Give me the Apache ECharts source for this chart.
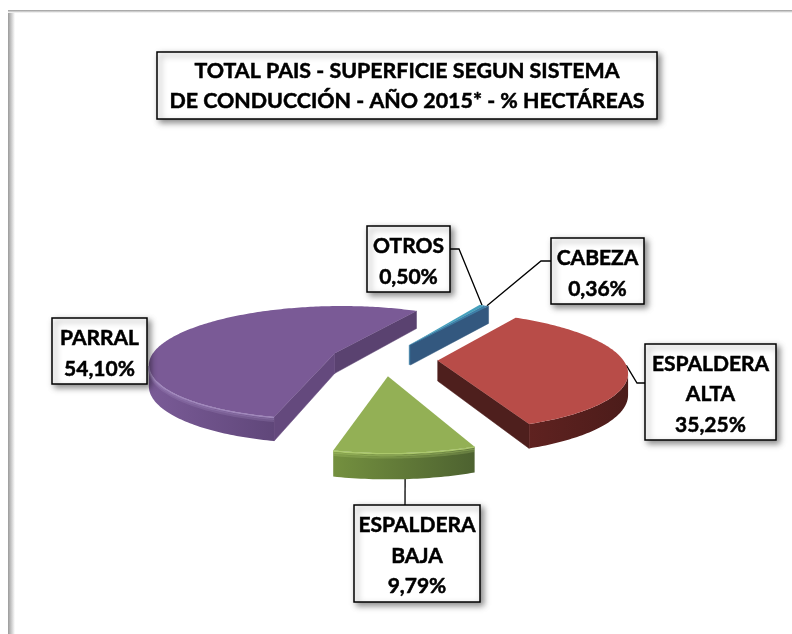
<!DOCTYPE html>
<html><head><meta charset="utf-8">
<style>html,body{margin:0;padding:0;background:#fff}#c{width:792px;height:634px}</style>
<script src="https://cdn.jsdelivr.net/npm/echarts@6/dist/echarts.min.js"></script>
</head><body><div id="c"></div>
<script>
const categories = ['CABEZA', 'ESPALDERA\nALTA', 'ESPALDERA\nBAJA', 'PARRAL', 'OTROS'];
const values = [0.36, 35.25, 9.79, 54.10, 0.50];
const titleText = 'TOTAL PAIS - SUPERFICIE SEGUN SISTEMA\nDE CONDUCCIÓN - AÑO 2015* - % HECTÁREAS';
const faceColors = ['#3f7fa8', '#b84c48', '#93b055', '#7a5a96', '#45a0bd'];
const rimColors = [['#33587f', '#33587f'], ['#5f2220', '#4c1c1a'], ['#74903f', '#4d6230'], ['#7a5b97', '#60477a'], ['#33587f', '#33587f']];
const startWallColors = ['#33587f', '#4e1f1d', '#6a8540', '#5a4270', '#3a7ba3'];
const endWallColors = ['#33587f', '#4e1f1d', '#6a8540', '#64497d', '#3a7ba3'];
const bevelColors = ['', '', '#b4d072', '#a48cc0', ''];
const labelBoxes = [[551, 238, 93, 66], [645, 344, 131, 96], [354, 505, 126, 97], [52, 318, 95, 66], [367, 226, 83, 66]];
const leaderPaths = [[[551, 261], [541, 261]], [[645, 383], [637, 383]], [[405, 505]], [], [[450, 249], [459, 249]]];

const PIE = { cx: 384, cy: 359, a: 185, b: 57, persp: 0.17, explode: 0.29, depth: 20.5, firstAngle: 59.8 };
const RAD = Math.PI / 180;
const total = values.reduce((s, v) => s + v, 0);
function project(X, Y) {
  const w = 1 + PIE.persp * Y;
  return [PIE.cx + PIE.a * X / w, PIE.cy - PIE.b * Y / w, w];
}
function geometry(i, val) {
  let before = 0;
  for (let k = 0; k < i; k++) before += values[k];
  const hi = PIE.firstAngle - before / total * 360;
  const lo = hi - val / total * 360;
  const mid = (hi + lo) / 2 * RAD;
  const ex = PIE.explode * Math.cos(mid), ey = PIE.explode * Math.sin(mid);
  const n = Math.max(2, Math.ceil(hi - lo));
  const rim = [];
  for (let k = 0; k <= n; k++) {
    const t = (lo + (hi - lo) * k / n) * RAD;
    rim.push(project(ex + Math.cos(t), ey + Math.sin(t)));
  }
  const m = project(ex + Math.cos(mid), ey + Math.sin(mid));
  return { apex: project(ex, ey), rim, midPoint: m };
}
const low = (p, f) => [p[0], p[1] + (f === undefined ? PIE.depth : f) / p[2]];
const xy = p => [p[0], p[1]];
function wall(p, q, fill) {
  return { type: 'polygon', shape: { points: [xy(p), xy(q), low(q), low(p)] },
           style: { fill: fill, stroke: fill, lineWidth: 0.5 } };
}
function renderSlice(params, api) {
  const i = params.dataIndex;
  const g = geometry(i, api.value(0));
  const children = [];
  if (g.rim[0][0] > g.apex[0]) children.push(wall(g.apex, g.rim[0], startWallColors[i]));
  const last = g.rim[g.rim.length - 1];
  if (g.apex[0] > last[0]) children.push(wall(last, g.apex, endWallColors[i]));
  const vis = g.rim.filter((p, k) =>
    (k < g.rim.length - 1 && g.rim[k + 1][0] > p[0]) || (k > 0 && p[0] > g.rim[k - 1][0]));
  if (vis.length > 1) {
    const pts = vis.map(xy).concat(vis.slice().reverse().map(p => low(p)));
    children.push({ type: 'polygon', shape: { points: pts }, style: {
      fill: new echarts.graphic.LinearGradient(0, 0, 1, 0, [
        { offset: 0, color: rimColors[i][0] }, { offset: 1, color: rimColors[i][1] }]) } });
  }
  children.push({ type: 'polygon', shape: { points: [xy(g.apex)].concat(g.rim.map(xy)) },
    style: { fill: faceColors[i] } });
  if (bevelColors[i] && vis.length > 1) {
    [[3.5, 0.25, 2], [2, 0.45, 1.5], [0.5, 0.9, 1.5]].forEach(o => {
      children.push({ type: 'polyline', shape: { points: vis.map(p => low(p, o[0])) },
        style: { fill: null, stroke: bevelColors[i], opacity: o[1], lineWidth: o[2] } });
    });
  }
  // the thin front sliver covers the wall of the sliver behind it
  const layer = i === 0 ? 10 : 0;
  children.forEach(c => { c.z2 = layer; });
  return { type: 'group', children };
}
function renderLeader(params, api) {
  const i = params.dataIndex;
  const path = leaderPaths[i];
  if (!path.length) return null;
  const g = geometry(i, api.value(0));
  return { type: 'polyline', shape: { points: path.concat([xy(g.midPoint)]) },
           style: { fill: null, stroke: '#000', lineWidth: 1.3 } };
}
function renderLabel(params, api) {
  const i = params.dataIndex;
  const box = labelBoxes[i];
  const pct = api.value(0).toFixed(2).replace('.', ',') + '%';
  const lines = categories[i].split('\n').concat([pct]);
  const lh = 30.5;
  const top = box[1] + box[3] / 2 - lines.length * lh / 2 + lh / 2 + 2.5;
  const children = [{ type: 'rect', shape: { x: box[0], y: box[1], width: box[2], height: box[3] },
    style: { fill: '#fff', stroke: '#000', lineWidth: 1.5, shadowBlur: 6, shadowOffsetX: 3, shadowOffsetY: 3, shadowColor: 'rgba(0,0,0,0.45)' } }];
  lines.forEach((t, k) => children.push({ type: 'text', style: {
    text: t, x: box[0] + box[2] / 2, y: top + k * lh, align: 'center', verticalAlign: 'middle',
    font: 'bold 21px Lato, "Open Sans", sans-serif', fill: '#000', stroke: '#000', lineWidth: 0.5 } }));
  return { type: 'group', children };
}
const chart = echarts.init(document.getElementById('c'), null, { renderer: 'canvas' });
const data = values.map((v, i) => ({ name: categories[i].replace('\n', ' '), value: [v] }));
chart.setOption({
  animation: false,
  backgroundColor: '#fff',
  title: {
    text: titleText, left: 395, top: 52, textAlign: 'center',
    padding: [4, 12, 3, 12], backgroundColor: '#fff', borderColor: '#000', borderWidth: 1.5,
    shadowBlur: 6, shadowOffsetX: 3, shadowOffsetY: 3, shadowColor: 'rgba(0,0,0,0.45)',
    textStyle: { color: '#000', fontFamily: 'Lato', fontWeight: 'bold', fontSize: 21.4, lineHeight: 30, textBorderColor: '#000', textBorderWidth: 0.5 }
  },
  graphic: [
    { type: 'rect', silent: true, z: -1, shape: { x: 8, y: 10, width: 7, height: 624 }, style: {
      fill: new echarts.graphic.LinearGradient(0, 0, 1, 0, [{ offset: 0, color: '#9a9a9a' }, { offset: 1, color: '#ffffff' }]) } },
    { type: 'rect', silent: true, z: -1, shape: { x: 8, y: 10, width: 784, height: 3 }, style: {
      fill: new echarts.graphic.LinearGradient(0, 0, 0, 1, [{ offset: 0, color: '#9a9a9a' }, { offset: 1, color: '#ffffff' }]) } }
  ],
  series: [
    { type: 'custom', name: 'leaders', coordinateSystem: 'none', z: 1, renderItem: renderLeader, data: data, silent: true },
    { type: 'custom', name: 'superficie', coordinateSystem: 'none', z: 2, renderItem: renderSlice, data: data, silent: true },
    { type: 'custom', name: 'labels', coordinateSystem: 'none', z: 3, renderItem: renderLabel, data: data, silent: true }
  ]
});
</script></body></html>
